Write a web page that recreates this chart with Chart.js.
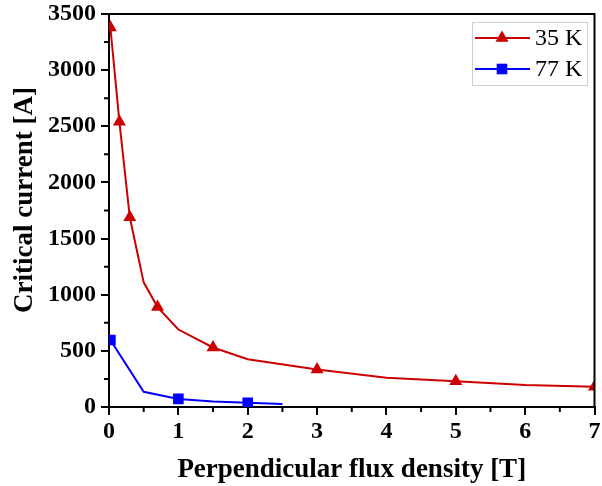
<!DOCTYPE html>
<html>
<head>
<meta charset="utf-8">
<script src="https://cdn.jsdelivr.net/npm/chart.js@4/dist/chart.umd.min.js"></script>
<style>
  body { margin: 0; background: #fff; }
  #wrap { width: 602px; height: 486px; }
</style>
</head>
<body>
<div id="wrap"><canvas id="myChart"></canvas></div>
<script>
// 35 K curve, points with a marker are the measured ones
const field35 = [0.02, 0.15, 0.3, 0.5, 0.7, 1, 1.5, 2, 3, 4, 5, 6, 7];
const current35 = [3380, 2540, 1690, 1110, 890, 690, 530, 425, 335, 260, 230, 195, 180];
const marked35 = [0.02, 0.15, 0.3, 0.7, 1.5, 3, 5, 7];

// 77 K curve
const field77 = [0.02, 0.5, 1, 1.5, 2, 2.5];
const current77 = [597, 135, 72, 48, 37, 27];
const marked77 = [0.02, 1, 2];

const xTicks = [0, 1, 2, 3, 4, 5, 6, 7];
const yTicks = [0, 500, 1000, 1500, 2000, 2500, 3000, 3500];
const seriesNames = ["35 K", "77 K"];
const yTitle = "Critical current [A]";

const RED = "#cc0000";
const BLUE = "#0000ff";
const SERIF = "'Liberation Serif', 'Times New Roman', serif";

const toPoints = (xs, ys) => xs.map((x, i) => ({ x: x, y: ys[i] }));
const markerRadius = (marked) => (ctx) => (ctx.raw && marked.includes(ctx.raw.x) ? 7.5 : 0);

function marker(ctx, style, x, y, r, color) {
  ctx.fillStyle = color;
  ctx.beginPath();
  if (style === "triangle") {
    ctx.moveTo(x, y - r);
    ctx.lineTo(x + r * 0.866, y + r * 0.5);
    ctx.lineTo(x - r * 0.866, y + r * 0.5);
  } else {
    const s = r * Math.SQRT1_2;
    ctx.rect(x - s, y - s, 2 * s, 2 * s);
  }
  ctx.closePath();
  ctx.fill();
}

// box frame, minor ticks, y title and the legend
const framePlugin = {
  id: "frame",
  afterDraw(chart) {
    const { ctx, chartArea: a, scales } = chart;
    ctx.save();
    ctx.strokeStyle = "#000";
    ctx.lineWidth = 2;
    ctx.beginPath();
    ctx.moveTo(a.left, a.top);
    ctx.lineTo(a.right, a.top);
    ctx.lineTo(a.right, a.bottom);
    ctx.stroke();

    ctx.beginPath();
    for (let i = 0; i < xTicks.length - 1; i++) {
      const px = scales.x.getPixelForValue((xTicks[i] + xTicks[i + 1]) / 2);
      ctx.moveTo(px, a.bottom);
      ctx.lineTo(px, a.bottom + 5);
    }
    for (let i = 0; i < yTicks.length - 1; i++) {
      const py = scales.y.getPixelForValue((yTicks[i] + yTicks[i + 1]) / 2);
      ctx.moveTo(a.left, py);
      ctx.lineTo(a.left - 5, py);
    }
    ctx.stroke();

    // y axis title, sits a bit above the middle of the axis
    ctx.save();
    ctx.translate(25, 200);
    ctx.rotate(-Math.PI / 2);
    ctx.fillStyle = "#000";
    ctx.font = "bold 27px " + SERIF;
    ctx.textAlign = "center";
    ctx.textBaseline = "middle";
    ctx.fillText(yTitle, 0, 0);
    ctx.restore();

    // legend
    const bx = 472, by = 22, bw = 115, bh = 63;
    ctx.fillStyle = "#fff";
    ctx.fillRect(bx, by, bw, bh);
    ctx.strokeStyle = "#cfcfcf";
    ctx.lineWidth = 1;
    ctx.strokeRect(bx + 0.5, by + 0.5, bw, bh);
    const rows = [
      { y: 38, color: RED, style: "triangle" },
      { y: 69, color: BLUE, style: "rect" },
    ];
    rows.forEach((row, i) => {
      ctx.strokeStyle = row.color;
      ctx.lineWidth = 2;
      ctx.beginPath();
      ctx.moveTo(475, row.y);
      ctx.lineTo(530, row.y);
      ctx.stroke();
      marker(ctx, row.style, 502, row.y, 7.5, row.color);
      ctx.fillStyle = "#000";
      ctx.font = "24px " + SERIF;
      ctx.textBaseline = "middle";
      ctx.textAlign = "left";
      ctx.fillText(seriesNames[i], 535, row.y + 1);
    });
    ctx.restore();
  },
};

const tickFont = { family: SERIF, size: 24, weight: "bold" };
const titleFont = { family: SERIF, size: 27, weight: "bold" };

new Chart(document.getElementById("myChart"), {
  type: "line",
  data: {
    datasets: [
      {
        label: seriesNames[0],
        data: toPoints(field35, current35),
        borderColor: RED,
        backgroundColor: RED,
        borderWidth: 2,
        pointStyle: "triangle",
        pointRadius: markerRadius(marked35),
        pointBorderWidth: 0,
        tension: 0,
      },
      {
        label: seriesNames[1],
        data: toPoints(field77, current77),
        borderColor: BLUE,
        backgroundColor: BLUE,
        borderWidth: 2,
        pointStyle: "rect",
        pointRadius: markerRadius(marked77),
        pointBorderWidth: 0,
        tension: 0,
      },
    ],
  },
  options: {
    responsive: true,
    maintainAspectRatio: false,
    animation: false,
    events: [],
    layout: { padding: { top: 14, right: 4, left: 0, bottom: 0 } },
    plugins: { legend: { display: false }, tooltip: { enabled: false } },
    scales: {
      x: {
        type: "linear",
        min: 0,
        max: 7,
        afterFit: (s) => {
          s.height = 79;
          s.paddingLeft = 0;
          s.paddingRight = 0;
        },
        afterBuildTicks: (s) => { s.ticks = xTicks.map((v) => ({ value: v })); },
        ticks: { font: tickFont, color: "#000", padding: 2, callback: (v) => String(v) },
        grid: { display: true, drawOnChartArea: false, tickLength: 8, color: "#000", lineWidth: 2 },
        border: { color: "#000", width: 2 },
        title: {
          display: true,
          text: "Perpendicular flux density [T]",
          font: titleFont,
          color: "#000",
          padding: { top: 0, bottom: 0 },
        },
      },
      y: {
        type: "linear",
        min: 0,
        max: 3500,
        afterFit: (s) => {
          s.width = 109;
          s.paddingTop = 0;
          s.paddingBottom = 0;
        },
        afterBuildTicks: (s) => { s.ticks = yTicks.map((v) => ({ value: v })); },
        ticks: { font: tickFont, color: "#000", padding: 5, callback: (v) => String(v) },
        grid: { display: true, drawOnChartArea: false, tickLength: 8, color: "#000", lineWidth: 2 },
        border: { color: "#000", width: 2 },
        title: { display: false },
      },
    },
  },
  plugins: [framePlugin],
});
</script>
</body>
</html>
